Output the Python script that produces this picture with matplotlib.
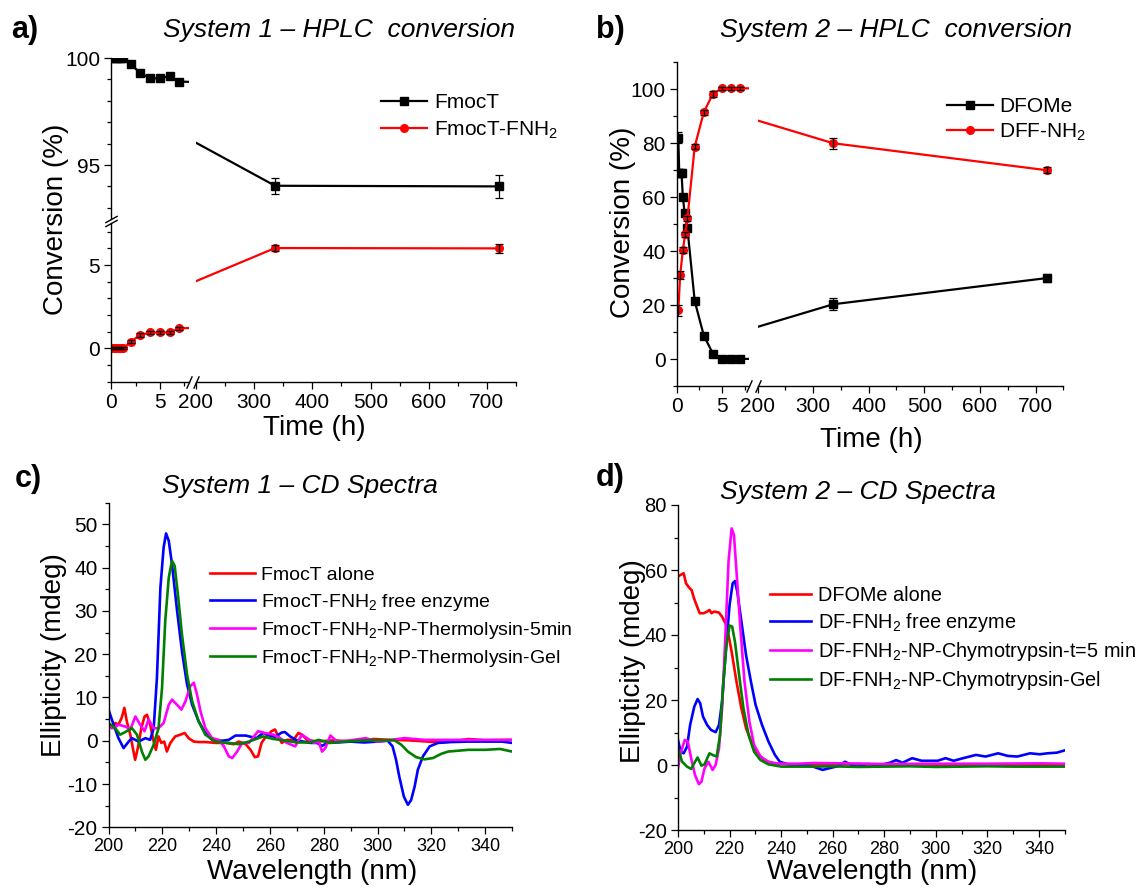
import matplotlib
matplotlib.use("Agg")
import matplotlib.pyplot as plt
from matplotlib.ticker import MultipleLocator, FixedLocator
import numpy as np

plt.rcParams['font.family'] = ['Liberation Sans', 'DejaVu Sans']
plt.rcParams['mathtext.fontset'] = 'custom'
plt.rcParams['mathtext.rm'] = 'Liberation Sans'
plt.rcParams['mathtext.it'] = 'Liberation Sans:italic'
plt.rcParams['mathtext.bf'] = 'Liberation Sans:bold'
plt.rcParams['mathtext.default'] = 'rm'
plt.rcParams['axes.unicode_minus'] = False

# ---- panel a: System 1 HPLC conversion ----
fmoct_t = [0, 0.25, 0.5, 0.75, 1, 1.25, 2, 3, 4, 5, 6, 7, 336, 720]
fmoct = [100, 100, 100, 100, 100, 100, 99.7, 99.3, 99.05, 99.05, 99.15, 98.9, 94.03, 94.0]
fmoct_err = [0.05, 0.05, 0.05, 0.05, 0.05, 0.05, 0.05, 0.05, 0.05, 0.05, 0.05, 0.05, 0.37, 0.53]
fnh2 = [0, 0, 0, 0, 0, 0, 0.4, 0.8, 0.95, 0.95, 0.95, 1.2, 6.02, 6.0]
fnh2_err = [0.05, 0.05, 0.05, 0.05, 0.05, 0.05, 0.1, 0.1, 0.1, 0.1, 0.1, 0.1, 0.17, 0.29]

# ---- panel b: System 2 HPLC conversion ----
dfome_t = [0.2, 0.3, 0.55, 0.7, 0.9, 1.2, 2, 3, 4, 5, 6, 7, 336, 720]
dfome = [82, 69, 69, 60, 54, 48.5, 21.5, 8.7, 2, 0, 0, 0, 20.3, 30]
dfome_err = [2, 1.5, 1.5, 1, 1, 1, 1, 1, 0.5, 0.3, 0.3, 0.3, 2.2, 1.4]
dff_t = [0.2, 0.4, 0.7, 0.95, 1.2, 2, 3, 4, 5, 6, 7, 336, 720]
dff = [18, 31, 40.4, 46.2, 52.2, 78.7, 91.5, 98.3, 100.4, 100.4, 100.4, 80, 70]
dff_err = [2, 1.5, 1, 1, 1, 1, 1, 1, 0.5, 0.5, 0.5, 2.1, 1.1]

# ---- panel c: System 1 CD spectra ----
c_alone_nm = [200, 201.2, 202.5, 203.7, 204.9, 205.9, 206.8, 208.1, 209.3, 209.9, 210.9, 212.2, 213.4, 214.3,
              215.5, 216.8, 217.6, 218.6, 219.6, 220.7, 221.7, 223, 224.8, 226.7, 228.3, 229.8, 231.7, 233.5,
              236, 239.8, 243.5, 246.6, 248.4, 251, 252.8, 254.4, 255.6, 256.9, 258.1, 260.6, 261.9, 263.1,
              264.4, 266.3, 268.8, 270.6, 271.9, 273.8, 277.5, 283.8, 290, 298.8, 305, 311.3, 318.8, 322.5,
              327.5, 333.8, 340, 350]
c_alone = [3.7, 2.9, 4.1, 3.7, 5.3, 7.6, 4.5, 1.4, -2.5, -4.4, -1.7, 2.9, 5.6, 6.0,
           3.7, -0.2, -2.1, 1.0, -0.5, -0.2, -2.5, -0.5, 1.0, 1.4, 1.8, 0.6, -0.2, -0.3,
           -0.3, -0.5, -0.5, -0.8, -0.2, -0.8, -2.1, -3.8, -3.6, -0.5, 0.6, 2.2, 2.6, 1.0,
           -0.5, 0.2, 0.2, 1.8, 1.4, 0.2, -0.2, 0.1, -0.2, 0.4, 0.2, 0.1, -0.2, -0.4,
           -0.2, 0.4, 0.1, 0.2]
c_free_nm = [200, 201.9, 203.7, 205.6, 207.5, 208.7, 211.2, 213.7, 215.5, 216.8, 218, 219.3, 220.5, 221.4,
             222.4, 223.6, 225.5, 227.3, 229.2, 231.1, 233.5, 236, 238.5, 242.2, 244.7, 247.2, 251, 255,
             257.5, 260, 261.9, 264.4, 265.6, 267.5, 270, 272.5, 275, 277.5, 279.4, 281.3, 285, 290, 295,
             300, 303.8, 305.6, 306.9, 308.1, 309.8, 311.3, 312.5, 313.8, 315, 316.9, 319.4, 322.5, 327.5,
             333.8, 340, 346.3, 350]
c_free = [7.2, 3.7, 0.6, -1.7, -0.2, 0.6, -0.2, 0.6, 0.2, 2.9, 14.5, 35.4, 44.7, 47.9,
          46.2, 40.8, 30, 20.7, 13, 8.3, 4.5, 1.8, 0.2, 0, 0.2, 1.2, 1.2, 0.6,
          1.8, 1.2, 0.9, 1.9, 2.0, 1.0, 0.1, -0.2, -0.5, -0.5, -1.2, -0.5, -0.4, -0.2, -0.4,
          -0.2, 0, -1.3, -4.4, -8.3, -12.9, -14.8, -13.7, -10.6, -6.7, -3.6, -1.3, -0.5, -0.3,
          -0.2, -0.2, -0.2, -0.5]
c_5min_nm = [200, 201.9, 203.7, 206.2, 208.1, 210, 211.8, 213.4, 214.9, 216.8, 218.6, 220.5, 222.4, 223.6,
             225.5, 227.1, 228.6, 230.4, 231.7, 232.9, 234.2, 236, 238.5, 241, 242.9, 244.7, 246, 247.8,
             249.7, 252.2, 255.6, 258.1, 261.3, 263.8, 266.3, 269.4, 271.9, 273.8, 276.3, 278.1, 279.4,
             280.6, 282.5, 285, 290, 295.6, 300, 305, 310, 317.5, 327.5, 340, 350]
c_5min = [3.3, 2.9, 3.7, 3.3, 2.6, 5.6, 3.7, 2.2, 4.9, 2.9, 2.9, 4.1, 8.3, 9.5,
          8.3, 7.2, 9.1, 12.6, 13.4, 10.7, 6.8, 2.9, 0.6, 0.2, -1.3, -3.6, -4.0, -2.5,
          -0.5, -0.5, 2.2, 1.8, 1.4, 0.6, -0.5, -1.3, 1.4, 0.6, -0.5, -0.2, -2.5,
          -1.7, 1.2, -0.2, 0.1, 0.6, -0.2, 0.2, 0.6, 0.2, 0.2, 0.2, 0.2]
c_gel_nm = [200, 202.5, 204.3, 206.2, 208.7, 210.6, 212.4, 213.7, 214.9, 216.8, 218.6, 219.9, 221.1, 222.4,
            223.6, 224.6, 225.8, 227.3, 229.2, 231.1, 233.5, 236, 239.8, 244.7, 248.4, 252.2, 257.5, 261.3,
            265, 270, 275, 278.1, 282.5, 287.5, 292.5, 297.5, 302.5, 306.3, 308.8, 311.3, 314.4, 317.5,
            320.6, 323.8, 326.3, 333.8, 340, 345.6, 350]
c_gel = [4.1, 2.9, 1.4, 2.0, 2.9, 1.4, -2.5, -4.4, -3.6, -0.9, 2.9, 12.2, 27.7, 37.7,
         41.6, 40.4, 33.8, 24.6, 15.3, 9.1, 4.5, 1.4, -0.2, -0.5, -0.8, -0.2, 1.0, 0.4,
         0.1, -0.4, -0.4, 0.2, -0.5, -0.2, 0, 0.1, 0.1, 0.1, -0.9, -2.5, -3.8, -4.3,
         -4.0, -3.0, -2.5, -2.1, -2.1, -1.9, -2.5]

# ---- panel d: System 2 CD spectra ----
d_alone_nm = [200, 201, 202.2, 203.1, 204.3, 205.3, 206.2, 207.2, 208.4, 210, 211.3, 212.2, 213, 214,
              215.9, 217.1, 218.4, 219.6, 220.8, 222.7, 224.6, 226.4, 228.9, 231.4, 233.9, 237.6, 243.8,
              252.5, 260, 270, 280, 290, 300, 310, 320, 330, 340, 350]
d_alone = [58, 58.5, 59, 55.9, 54.6, 53.8, 51.3, 49.2, 46.7, 46.7, 47.2, 47.7, 46.7, 47.2,
           46.9, 45.6, 43.6, 40, 34.9, 25.6, 17.4, 11.3, 6.2, 3.1, 1.2, 0.4, 0.2,
           0.2, 0.1, 0.3, 0, 0.2, 0.1, 0, 0.2, 0, 0.1, 0.1]
d_free_nm = [200, 201, 202.2, 203.5, 204.7, 206.3, 207.6, 208.6, 209.7, 211.3, 212.8, 214.6, 215.9, 217.1,
             218.4, 220, 221.2, 222.1, 223, 224.6, 226.4, 228.3, 230.1, 232.6, 235.1, 237.6, 239.5, 242.6,
             248.7, 252.4, 256.1, 258.6, 262.3, 264.8, 267.3, 269.8, 273.5, 278.4, 282.2, 284.6, 287.1,
             290.8, 294.5, 300.7, 303.8, 306.9, 310.6, 315.6, 319.3, 324.2, 327.9, 331.6, 336.6, 340.3,
             343.4, 347, 350]
d_free = [7.7, 4.1, 3.6, 5.6, 12.3, 17.9, 20.3, 19, 14.9, 12.3, 10.8, 10.1, 12.3, 19.5,
          33.8, 49.2, 55.9, 56.6, 53.3, 44.1, 33.8, 25.6, 18.5, 12.3, 7.2, 3.1, 1.0, 0.2,
          0, -0.5, -1.5, -1.0, -0.3, 1.0, 0, -0.5, 0.3, 0, 0.7, 1.5, 0.7,
          2.1, 1.3, 1.3, 2.1, 1.3, 2.1, 3.1, 2.6, 3.6, 2.8, 2.6, 3.6, 3.3,
          3.6, 3.8, 4.5]
d_5min_nm = [200, 201, 202.6, 203.8, 205.1, 206.6, 208.1, 209.1, 210.3, 211.8, 213.4, 214.6, 215.9, 217.1,
             218.4, 219.6, 220.8, 221.7, 222.7, 224.2, 225.8, 227.7, 229.5, 232, 235.1, 238.8, 246.3,
             252.5, 265, 280, 300, 320, 340, 350]
d_5min = [-1.0, 3.6, 7.7, 7.2, 2.1, -3.1, -5.9, -5.1, -1.0, 1.0, -1.5, 0, 5.1, 17.4,
          40, 62.6, 72.8, 70.8, 59.5, 42, 25.6, 13.3, 6.2, 2.6, 1.0, 0.4, 0.4,
          0.6, 0.5, 0.3, 0.4, 0.4, 0.5, 0.4]
d_gel_nm = [200, 201.6, 203.5, 205.1, 206.6, 207.6, 209.1, 210.3, 212.2, 213.4, 215, 216.3, 217.5, 218.8,
            220, 221, 222.1, 223.7, 225.4, 227.4, 229.5, 232, 235.1, 240.1, 246.3, 252.5, 260, 270,
            280, 290, 300, 310, 320, 330, 340, 350]
d_gel = [5.1, 1.0, -0.5, -1.2, 1.0, 2.3, -0.2, 0.2, 3.6, 3.1, 2.6, 9.2, 24.6, 36.9,
         42.9, 42.6, 37.9, 27.7, 17.4, 9.2, 4.1, 1.5, 0.2, -0.5, -0.5, -0.5, -0.4, -0.6,
         -0.5, -0.4, -0.6, -0.5, -0.4, -0.5, -0.5, -0.5]

RED, BLUE, MAG, GREEN = '#ff0000', '#0000ff', '#ff00ff', '#008000'

W, H = 1145, 888
fig = plt.figure(figsize=(W / 100, H / 100), dpi=100)


def px_axes(x0, y0, x1, y1):
    ax = fig.add_axes([x0 / W, 1 - y1 / H, (x1 - x0) / W, (y1 - y0) / H])
    ax.patch.set_alpha(0)
    return ax


def fig_text(x, y, s, **kw):
    fig.text(x / W, 1 - y / H, s, **kw)


def style(ax, left=True, bottom=True, xsize=15, ysize=15):
    for s in ['top', 'right']:
        ax.spines[s].set_visible(False)
    ax.spines['left'].set_visible(left)
    ax.spines['bottom'].set_visible(bottom)
    for s in ['left', 'bottom']:
        ax.spines[s].set_linewidth(1.0)
    ax.tick_params(which='both', direction='out', width=0.9, top=False, right=False,
                   left=left, bottom=bottom, labelleft=left, labelbottom=bottom)
    ax.tick_params(which='major', length=5, pad=3)
    ax.tick_params(which='minor', length=3)
    ax.tick_params(axis='x', labelsize=xsize)
    ax.tick_params(axis='y', labelsize=ysize)


def hplc(ax, t, y, err, color, marker, label):
    line, = ax.plot(t, y, color=color, lw=1.6, marker=marker, ms=5.5, mfc=color, mec=color, label=label)
    ax.errorbar(t, y, yerr=err, fmt='none', ecolor='k', elinewidth=0.9, capsize=3, capthick=0.9)
    return line


xbreak = dict(marker=[(-0.45, -1), (0.45, 1)], markersize=9, linestyle='none', color='k',
              mec='k', mew=1, clip_on=False)
ybreak = dict(marker=[(-1, -0.55), (1, 0.55)], markersize=9, linestyle='none', color='k',
              mec='k', mew=1, clip_on=False)

# ================= panel a (broken x and y) =================
a_ul = px_axes(111.3, 58, 188.9, 218.5)
a_ur = px_axes(195.9, 58, 516, 218.5)
a_ll = px_axes(111.3, 223.4, 188.9, 381.6)
a_lr = px_axes(195.9, 223.4, 516, 381.6)

for ax, left, bottom in [(a_ul, True, False), (a_ur, False, False), (a_ll, True, True), (a_lr, False, True)]:
    lines = [hplc(ax, fmoct_t, fmoct, fmoct_err, 'k', 's', 'FmocT'),
             hplc(ax, fmoct_t, fnh2, fnh2_err, RED, 'o', 'FmocT-FNH$_2$')]
    style(ax, left, bottom)
for ax in (a_ul, a_ll):
    ax.set_xlim(0, 8)
    ax.xaxis.set_major_locator(FixedLocator([0, 5]))
    ax.xaxis.set_minor_locator(FixedLocator([2.5, 7.5]))
for ax in (a_ur, a_lr):
    ax.set_xlim(200, 750)
    ax.xaxis.set_major_locator(FixedLocator([200, 300, 400, 500, 600, 700]))
    ax.xaxis.set_minor_locator(FixedLocator([250, 350, 450, 550, 650, 750]))
for ax in (a_ul, a_ur):
    ax.set_ylim(92.5, 100)
    ax.yaxis.set_major_locator(FixedLocator([95, 100]))
    ax.yaxis.set_minor_locator(FixedLocator([93, 94, 96, 97, 98, 99]))
for ax in (a_ll, a_lr):
    ax.set_ylim(-2, 7.5)
    ax.yaxis.set_major_locator(FixedLocator([0, 5]))
    ax.yaxis.set_minor_locator(FixedLocator([-2, -1, 1, 2, 3, 4, 6, 7]))
a_ll.plot([1], [0], transform=a_ll.transAxes, **xbreak)
a_lr.plot([0], [0], transform=a_lr.transAxes, **xbreak)
a_ul.plot([0], [0], transform=a_ul.transAxes, **ybreak)
a_ll.plot([0], [1], transform=a_ll.transAxes, **ybreak)
a_ur.legend(handles=lines, loc='upper left', bbox_to_anchor=(380.5 / W, 1 - 93.5 / H),
            bbox_transform=fig.transFigure, frameon=False, fontsize=15, borderpad=0,
            borderaxespad=0, handlelength=2.24, handletextpad=0.34, labelspacing=0.33)

# ================= panel b (broken x) =================
b_l = px_axes(676.5, 62.3, 749.3, 386)
b_r = px_axes(757.5, 62.3, 1063.3, 386)
for ax, left in [(b_l, True), (b_r, False)]:
    lines = [hplc(ax, dfome_t, dfome, dfome_err, 'k', 's', 'DFOMe'),
             hplc(ax, dff_t, dff, dff_err, RED, 'o', 'DFF-NH$_2$')]
    style(ax, left, True)
    ax.set_ylim(-10, 110)
    ax.yaxis.set_major_locator(MultipleLocator(20))
    ax.yaxis.set_minor_locator(MultipleLocator(10))
b_l.set_xlim(0, 8)
b_l.xaxis.set_major_locator(FixedLocator([0, 5]))
b_l.xaxis.set_minor_locator(FixedLocator([2.5, 7.5]))
b_r.set_xlim(200, 750)
b_r.xaxis.set_major_locator(FixedLocator([200, 300, 400, 500, 600, 700]))
b_r.xaxis.set_minor_locator(FixedLocator([250, 350, 450, 550, 650, 750]))
b_l.plot([1], [0], transform=b_l.transAxes, **xbreak)
b_r.plot([0], [0], transform=b_r.transAxes, **xbreak)
b_r.legend(handles=lines, loc='upper left', bbox_to_anchor=(947 / W, 1 - 97 / H),
           bbox_transform=fig.transFigure, frameon=False, fontsize=15, borderpad=0,
           borderaxespad=0, handlelength=2.2, handletextpad=0.29, labelspacing=0.26)

# ================= panel c =================
c = px_axes(108.5, 502.7, 512, 827.3)
c.plot(c_alone_nm, c_alone, color=RED, lw=1.9, label='FmocT alone')
c.plot(c_free_nm, c_free, color=BLUE, lw=1.9, label='FmocT-FNH$_2$ free enzyme')
c.plot(c_5min_nm, c_5min, color=MAG, lw=1.9, label='FmocT-FNH$_2$-NP-Thermolysin-5min')
c.plot(c_gel_nm, c_gel, color=GREEN, lw=1.9, label='FmocT-FNH$_2$-NP-Thermolysin-Gel')
style(c, xsize=13, ysize=15)
c.set_xlim(200, 350)
c.set_ylim(-20, 55)
c.xaxis.set_major_locator(MultipleLocator(20))
c.xaxis.set_minor_locator(MultipleLocator(10))
c.yaxis.set_major_locator(MultipleLocator(10))
c.yaxis.set_minor_locator(MultipleLocator(5))
c.legend(loc='upper left', bbox_to_anchor=(210 / W, 1 - 566.5 / H), bbox_transform=fig.transFigure,
         frameon=False, fontsize=14, borderpad=0, borderaxespad=0, handlelength=2.3,
         handletextpad=0.33, labelspacing=0.38)

# ================= panel d =================
d = px_axes(678, 505, 1064.7, 830)
d.plot(d_alone_nm, d_alone, color=RED, lw=1.9, label='DFOMe alone')
d.plot(d_free_nm, d_free, color=BLUE, lw=1.9, label='DF-FNH$_2$ free enzyme')
d.plot(d_5min_nm, d_5min, color=MAG, lw=1.9, label='DF-FNH$_2$-NP-Chymotrypsin-t=5 min')
d.plot(d_gel_nm, d_gel, color=GREEN, lw=1.9, label='DF-FNH$_2$-NP-Chymotrypsin-Gel')
style(d, xsize=13, ysize=14.5)
d.set_xlim(200, 350)
d.set_ylim(-20, 80)
d.xaxis.set_major_locator(MultipleLocator(20))
d.xaxis.set_minor_locator(MultipleLocator(10))
d.yaxis.set_major_locator(MultipleLocator(20))
d.yaxis.set_minor_locator(MultipleLocator(10))
d.legend(loc='upper left', bbox_to_anchor=(769.7 / W, 1 - 586 / H), bbox_transform=fig.transFigure,
         frameon=False, fontsize=14.3, borderpad=0, borderaxespad=0, handlelength=2.1,
         handletextpad=0.33, labelspacing=0.3)

# ================= titles, labels =================
title_kw = dict(fontsize=19, fontstyle='italic', ha='center', va='center')
fig_text(339, 30, 'System 1 – HPLC  conversion', **title_kw)
fig_text(895.6, 30, 'System 2 – HPLC  conversion', **title_kw)
fig_text(300, 486, 'System 1 – CD Spectra', **title_kw)
fig_text(858, 492, 'System 2 – CD Spectra', **title_kw)

letter_kw = dict(fontsize=22, fontweight='bold', ha='left', va='center')
fig_text(11, 30, 'a)', **letter_kw)
fig_text(596, 30, 'b)', **letter_kw)
fig_text(15, 479, 'c)', **letter_kw)
fig_text(596, 478, 'd)', **letter_kw)

lab_kw = dict(fontsize=20, ha='center', va='center')
fig_text(55.6, 219, 'Conversion (%)', rotation=90, **lab_kw)
fig_text(622.7, 222.5, 'Conversion (%)', rotation=90, **lab_kw)
fig_text(53.8, 655, 'Ellipticity (mdeg)', rotation=90, **lab_kw)
fig_text(633.5, 661, 'Ellipticity (mdeg)', rotation=90, **lab_kw)
fig_text(314, 428, 'Time (h)', **lab_kw)
fig_text(871, 440, 'Time (h)', **lab_kw)
fig_text(312, 872, 'Wavelength (nm)', **lab_kw)
fig_text(872.4, 872, 'Wavelength (nm)', **lab_kw)

fig.savefig('out.png', dpi=100)
